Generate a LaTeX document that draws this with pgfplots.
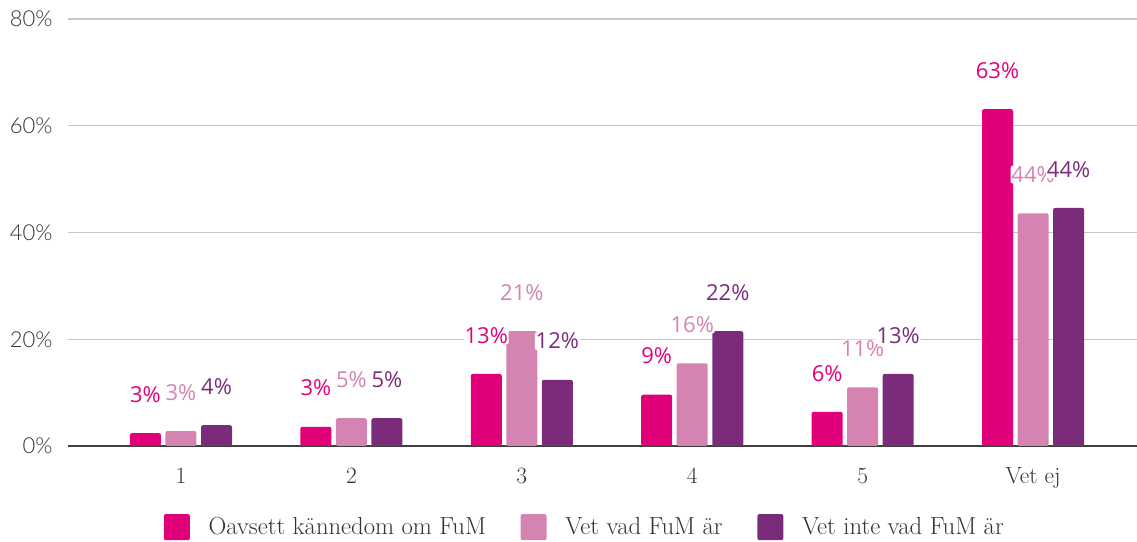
\documentclass[border=0pt]{standalone}
\usepackage{fontspec}
\usepackage{pgfplots}
\pgfplotsset{compat=1.18}
\newfontfamily\labfont{Open Sans}
\newfontfamily\yfont{Lato Light}
\definecolor{cA}{HTML}{E2007A}
\definecolor{cB}{HTML}{D584B2}
\definecolor{cC}{HTML}{7A2C7A}
\begin{document}
\begin{tikzpicture}
\begin{axis}[
  scale only axis, width=801.75pt, height=320.25pt,
  ybar=3.4pt, bar width=23.25pt,
  xmin=-0.663, xmax=5.61, ymin=0, ymax=80,
  xtick={0,1,2,3,4,5}, xticklabels={1,2,3,4,5,Vet ej},
  ytick={0,20,40,60,80},
  /pgf/number format/assume math mode=true,
  yticklabel={\pgfmathprintnumber{\tick}\%},
  yticklabel style={font=\yfont\fontsize{16.5}{19}\selectfont, text=black!80, xshift=-8pt},
  xticklabel style={font=\fontsize{17.5}{20}\selectfont, text=black!80, yshift=-13pt},
  major tick length=0pt,
  axis lines*=left,
  y axis line style={draw=none},
  x axis line style={-, draw=black!75, line width=1.5pt},
  ymajorgrids, grid style={black!22, line width=1.1pt},
  point meta=explicit symbolic,
  nodes near coords,
  every node near coord/.append style={font=\labfont\fontsize{16.5}{19}\selectfont,
    anchor=center, yshift=29pt, fill=white, inner sep=0.6pt},
  legend columns=3,
  legend style={draw=none, at={(0.5,-0.19)}, anchor=center, xshift=-13pt,
    font=\fontsize{18.5}{21}\selectfont, text=black!80,
    /tikz/every odd column/.style={column sep=12pt},
    /tikz/every even column/.style={column sep=24pt}},
  legend image code/.code={\fill[#1, rounded corners=1.5pt] (0pt,-9.75pt) rectangle (19.5pt,9.75pt);},
]
\addplot[fill=cA, draw=none, rounded corners=1.5pt, nodes near coords style={text=cA}] coordinates {
  (0,2.4) [3\%] (1,3.6) [3\%] (2,13.5) [13\%] (3,9.6) [9\%] (4,6.4) [6\%] (5,63.1) [63\%]};
\addplot[fill=cB, draw=none, rounded corners=1.5pt, nodes near coords style={text=cB}] coordinates {
  (0,2.8) [3\%] (1,5.2) [5\%] (2,21.5) [21\%] (3,15.5) [16\%] (4,11.0) [11\%] (5,43.6) [44\%]};
\addplot[fill=cC, draw=none, rounded corners=1.5pt, nodes near coords style={text=cC}] coordinates {
  (0,3.9) [4\%] (1,5.2) [5\%] (2,12.4) [12\%] (3,21.5) [22\%] (4,13.5) [13\%] (5,44.6) [44\%]};
\legend{Oavsett kännedom om FuM, Vet vad FuM är, Vet inte vad FuM är}
\end{axis}
\pgfresetboundingbox
\useasboundingbox ([xshift=-51pt, yshift=-72pt]current axis.south west) rectangle ([yshift=14.25pt]current axis.north east);
\end{tikzpicture}
\end{document}
